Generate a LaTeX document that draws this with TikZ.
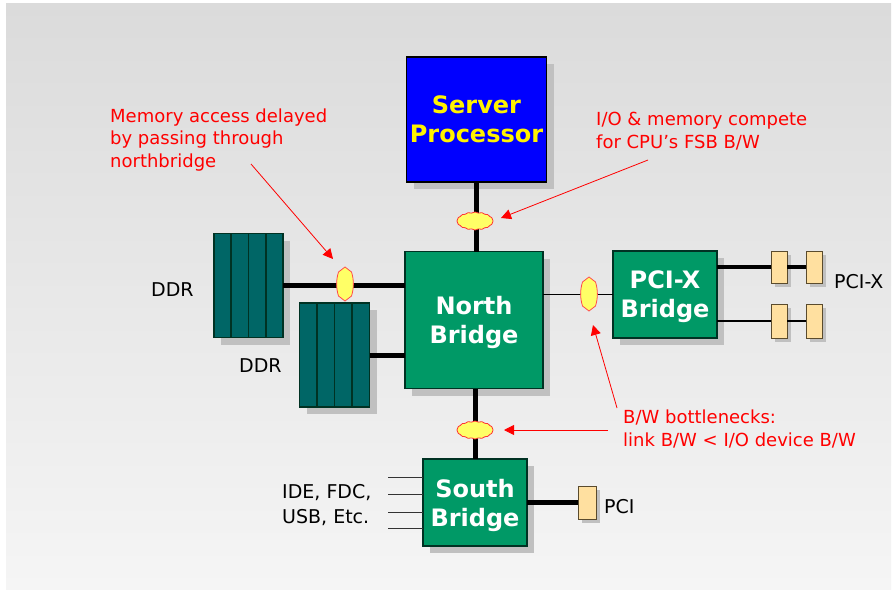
\documentclass[tikz,border=0pt]{standalone}
\usepackage{fontspec}
\setmainfont{DejaVu Sans}
\usetikzlibrary{arrows.meta,shadows,shapes.symbols,calc}
\definecolor{nbgreen}{RGB}{0,153,102}
\definecolor{ddrteal}{RGB}{0,102,102}
\definecolor{slottan}{RGB}{255,224,160}
\definecolor{slotedge}{RGB}{90,75,45}
\definecolor{shadowgray}{RGB}{192,192,192}
\definecolor{bgdark}{RGB}{219,219,219}
\definecolor{bglight}{RGB}{245,245,245}
\definecolor{annred}{RGB}{255,0,0}
\definecolor{cloudyellow}{RGB}{255,255,102}
\definecolor{boxedge}{RGB}{0,50,35}
\begin{document}
\begin{tikzpicture}[x=1pt,y=-1pt,
  shd/.style={drop shadow={shadow xshift=7pt,shadow yshift=-7pt,fill=shadowgray,opacity=1}},
  smallshd/.style={drop shadow={shadow xshift=4pt,shadow yshift=-4pt,fill=shadowgray,opacity=1}},
  chipbox/.style={draw=boxedge,line width=1.2pt,inner sep=0pt,outer sep=0pt,align=center,text depth=0pt,
    font=\fontsize{24}{29}\selectfont\bfseries,text=white,fill=nbgreen,shd},
  ddrbox/.style={draw=boxedge,line width=1.2pt,fill=ddrteal,inner sep=0pt,outer sep=0pt,shd},
  slotbox/.style={draw=slotedge,line width=1pt,fill=slottan,inner sep=0pt,outer sep=0pt,smallshd},
  busthick/.style={line width=5pt,black},
  busmid/.style={line width=4pt,black},
  busthin/.style={line width=1.6pt,black},
  iothin/.style={line width=1pt,black!80},
  buscloud/.style={cloud,cloud puffs=16,cloud puff arc=70,aspect=2,draw=red!80,fill=cloudyellow,
    minimum width=36pt,minimum height=18pt,inner sep=0pt,line width=0.8pt},
  vhex/.style={draw=red!70,fill=cloudyellow,line width=0.8pt},
  lbl/.style={font=\fontsize{19}{24.5}\selectfont,text=black,inner sep=0pt},
  ann/.style={font=\fontsize{18}{22.5}\selectfont,text=annred,inner sep=0pt,align=left},
  annarrow/.style={draw=annred,line width=0.8pt,-{Triangle[length=10pt,width=10pt]}}
]
\useasboundingbox (0,0) rectangle (893,594);
\fill[white] (0,0) rectangle (893,594);
\shade[shading angle=45,top color=bgdark,bottom color=bglight] (6,4) rectangle (891,589);

% boxes
\node[chipbox,fill=blue,text=yellow,draw=black,minimum width=140pt,minimum height=125pt] (cpu) at (476.5,119.5) {Server\\Processor};
\node[chipbox,minimum width=138pt,minimum height=137pt] (nb) at (474,320) {North\\Bridge};
\node[chipbox,minimum width=104pt,minimum height=87pt] (pcix) at (665,294.5) {PCI-X\\Bridge};
\node[chipbox,minimum width=104pt,minimum height=87pt] (sb) at (475,502.5) {South\\Bridge};

% DDR modules
\node[ddrbox,minimum width=69pt,minimum height=104pt] (ddr1) at (248.5,285.5) {};
\node[ddrbox,minimum width=70pt,minimum height=104pt] (ddr2) at (334.5,355) {};
\foreach \d in {ddr1,ddr2}{
  \foreach \f in {0.25,0.5,0.75}{
    \draw[boxedge,line width=1.6pt] ($(\d.north west)!\f!(\d.north east)$) -- ($(\d.south west)!\f!(\d.south east)$);
  }
}

% slots
\node[slotbox,minimum width=16pt,minimum height=32pt] (px1) at (779,267) {};
\node[slotbox,minimum width=16pt,minimum height=32pt] (px2) at (814,267) {};
\node[slotbox,minimum width=16pt,minimum height=34pt] (px3) at (779,321) {};
\node[slotbox,minimum width=16pt,minimum height=34pt] (px4) at (814,321) {};
\node[slotbox,minimum width=18pt,minimum height=33pt] (pci) at (587,502.5) {};

% buses
\draw[busthick] (cpu.south) -- (cpu.south |- nb.north);
\draw[busthick] (ddr1.east) -- (ddr1.east -| nb.west);
\draw[busthick] (ddr2.east) -- (ddr2.east -| nb.west);
\draw[busthin] (pcix.west -| nb.east) -- (pcix.west);
\draw[busthick] (sb.north |- nb.south) -- (sb.north);
\draw[busthick] (sb.east) -- (pci.west);
\draw[busmid] (pcix.east |- px1) -- (px1.west);
\draw[busmid] (px1.east) -- (px2.west);
\draw[busthin] (pcix.east |- px3) -- (px3.west);
\draw[busthin] (px3.east) -- (px4.west);
\foreach \i/\yy in {1/477,2/494,3/512,4/528}{
  \coordinate (io\i) at (388,\yy);
  \draw[iothin] (io\i) -- (io\i -| sb.west);
}

% bottleneck markers
\node[buscloud] (c1) at (475,221) {};
\node[buscloud] (c2) at (475,430) {};
\coordinate (v1) at (345,284);
\coordinate (v2) at (589,294);
\foreach \v in {v1,v2}{
  \draw[vhex,shift={(\v)}] (0,-17) -- (6.5,-12) .. controls (9,-4) and (9,4) .. (6.5,12)
     -- (0,17) -- (-6.5,12) .. controls (-9,4) and (-9,-4) .. (-6.5,-12) -- cycle;
}

% labels
\node[lbl,anchor=base west] (ddrl1) at (151,296) {DDR};
\node[lbl,anchor=base west] (ddrl2) at (239,372) {DDR};
\node[lbl,anchor=base west] (pcixl) at (834,288) {PCI-X};
\node[lbl,anchor=base west] (pcil) at (604,513) {PCI};
\node[lbl,anchor=base west,align=left] (iol) at (282,523) {IDE, FDC,\\USB, Etc.};

% annotations (anchor base = baseline of last line)
\node[ann,anchor=base west] (a1) at (110,167) {Memory access delayed\\by passing through\\northbridge};
\node[ann,anchor=base west] (a2) at (596,148) {I/O \& memory compete\\for CPU’s FSB B/W};
\node[ann,anchor=base west] (a3) at (623,446) {B/W bottlenecks:\\link B/W < I/O device B/W};

\coordinate (a1s) at (251,164);
\coordinate (a1e) at (333,259);
\draw[annarrow] (a1s) -- (a1e);
\coordinate (a2s) at (648,160);
\coordinate (a2e) at (501,218);
\draw[annarrow] (a2s) -- (a2e);
\coordinate (a3s) at (617,408);
\coordinate (a3e) at (593,325);
\draw[annarrow] (a3s) -- (a3e);
\coordinate (a4s) at (608,430);
\coordinate (a4e) at (504,430);
\draw[annarrow] (a4s) -- (a4e);
\end{tikzpicture}
\end{document}
